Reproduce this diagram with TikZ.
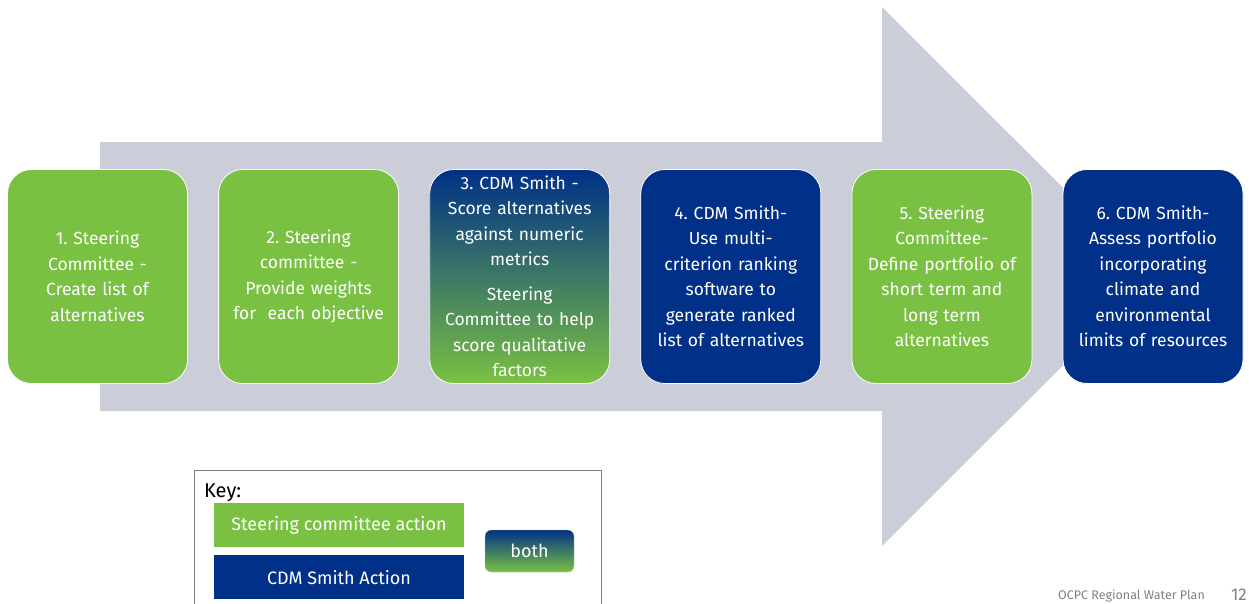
\documentclass[tikz,border=0pt]{standalone}
\usepackage{fontspec}
\setmainfont{Fira Sans}
\frenchspacing
\usetikzlibrary{positioning}
\definecolor{steergreen}{RGB}{122,193,67}
\definecolor{cdmblue}{RGB}{0,48,135}
\definecolor{arrowgray}{RGB}{203,205,217}
\definecolor{footgray}{RGB}{128,128,128}

\tikzset{
  stepbox/.style={rounded corners=24pt, draw=white, line width=0.8pt,
    minimum width=180pt, minimum height=214pt, text width=174pt, inner sep=0pt,
    align=center, text=white, font=\fontsize{17.5}{25.5}\selectfont},
  steerstep/.style={stepbox, fill=steergreen},
  cdmstep/.style={stepbox, fill=cdmblue},
  bothstep/.style={stepbox, top color=cdmblue, bottom color=steergreen},
  keyentry/.style={minimum width=250pt, minimum height=44pt, inner sep=0pt,
    text=white, font=\fontsize{18}{20}\selectfont}
}

\begin{document}
\begin{tikzpicture}[x=1pt,y=-1pt]
\useasboundingbox (0,0) rectangle (1249,603);
\clip (0,0) rectangle (1249,603);

% Big arrow in the background
\fill[arrowgray] (100,142) -- (882,142) -- (882,7) -- (1152,276.5) -- (882,546) -- (882,411) -- (100,411) -- cycle;

% Steps
\node[steerstep] (s1) at (97.5,276.5) {1. Steering\\Committee -\\Create list of\\alternatives};
\node[steerstep, right=30.3pt of s1] (s2) {2. Steering\\committee -\\Provide weights\\for\ \ each objective};
\node[bothstep, right=30.3pt of s2] (s3) {3. CDM Smith -\\Score alternatives\\against numeric\\metrics\\[9pt]Steering\\Committee to help\\score qualitative\\factors};
\node[cdmstep, right=30.3pt of s3] (s4) {4. CDM Smith-\\Use multi-\\criterion ranking\\software to\\generate ranked\\list of alternatives};
\node[steerstep, right=30.3pt of s4] (s5) {5. Steering\\Committee-\\Define portfolio of\\short term and\\long term\\alternatives};
\node[cdmstep, right=30.3pt of s5] (s6) {6. CDM Smith-\\Assess portfolio\\incorporating\\climate and\\environmental\\limits of resources};

% Key
\draw[footgray, fill=white, line width=0.8pt] (194,470) rectangle (601,640);
\node[anchor=base west, font=\fontsize{20}{24}\selectfont, inner sep=0pt] (keytitle) at (204,497) {Key:};
\node[keyentry, fill=steergreen] (keysteer) at (339,525) {Steering committee action};
\node[keyentry, fill=cdmblue, below=8pt of keysteer] (keycdm) {CDM Smith Action};
\node[rounded corners=6pt, draw=steergreen!60, top color=cdmblue, bottom color=steergreen,
  minimum width=89pt, minimum height=42pt, inner sep=0pt, text=white,
  font=\fontsize{18}{20}\selectfont] (keyboth) at (529.5,551) {both};

% Footer
\node[anchor=base east, text=footgray, font=\fontsize{12.5}{14}\selectfont, inner sep=0pt] (foottext) at (1205,599) {OCPC Regional Water Plan};
\node[anchor=base east, text=footgray, font=\fontsize{17}{20}\selectfont, inner sep=0pt] (pagenum) at (1247,600) {12};
\end{tikzpicture}
\end{document}
